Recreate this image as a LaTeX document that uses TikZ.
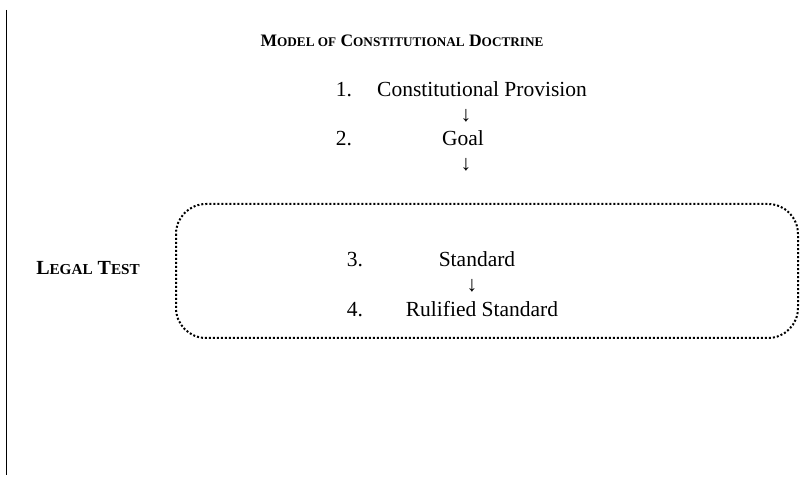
\documentclass[tikz,border=0pt]{standalone}
\usepackage{fontspec}
\setmainfont{Liberation Serif}
\newcommand{\fsc}[1]{{\fontsize{13.2}{14}\selectfont #1}}
\newcommand{\fscb}[1]{{\fontsize{15.2}{16}\selectfont #1}}
\begin{document}
\begin{tikzpicture}[x=1pt,y=-1pt,
  txt/.style={inner sep=0pt, anchor=base, font=\fontsize{21.5}{24}\selectfont},
  arr/.style={inner sep=0pt, anchor=center, font=\fontsize{21.5}{24}\selectfont},
  hdr/.style={inner sep=0pt, anchor=base, font=\bfseries\fontsize{17.5}{20}\selectfont},
  hdrb/.style={inner sep=0pt, anchor=base, font=\bfseries\fontsize{20}{22}\selectfont},
  testbox/.style={draw, line width=2pt, dash pattern=on 2pt off 2pt, rounded corners=30pt}]
\useasboundingbox (0,0) rectangle (804,486);
\draw[line width=1pt] (6,10) -- (6,475);
\node[hdr] (title) at (402,47) {M\fsc{ODEL OF} C\fsc{ONSTITUTIONAL} D\fsc{OCTRINE}};
\node[txt] (n1) at (344,97) {1.};
\node[txt] (t1) at (482,97) {Constitutional Provision};
\node[arr] (a1) at (466,116) {↓};
\node[txt] (n2) at (344,146) {2.};
\node[txt] (t2) at (463,146) {Goal};
\node[arr] (a2) at (466,165) {↓};
\draw[testbox] (176,204) rectangle (798,338);
\node[hdrb] (legal) at (88,275) {L\fscb{EGAL} T\fscb{EST}};
\node[txt] (n3) at (355,267) {3.};
\node[txt] (t3) at (477,267) {Standard};
\node[arr] (a3) at (472,286) {↓};
\node[txt] (n4) at (355,317) {4.};
\node[txt] (t4) at (482,317) {Rulified Standard};
\end{tikzpicture}
\end{document}
